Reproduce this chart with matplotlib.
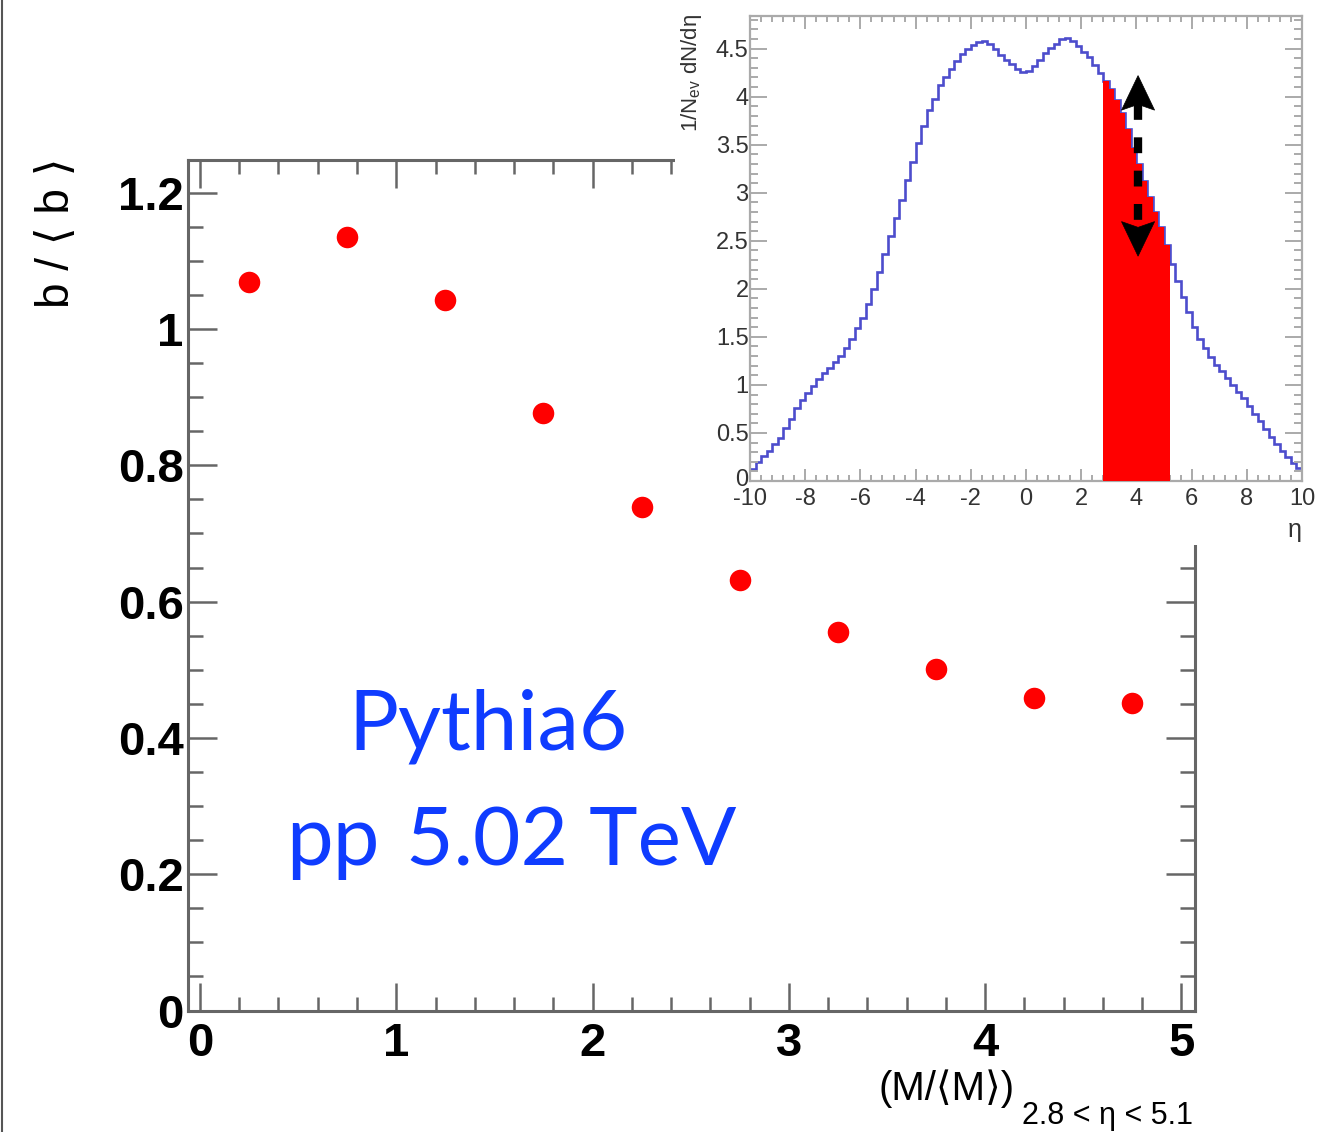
import numpy as np
import matplotlib
matplotlib.use("Agg")
import matplotlib.pyplot as plt
import matplotlib.transforms as mtransforms
from matplotlib.ticker import MultipleLocator, FormatStrFormatter
from matplotlib.patches import Rectangle, Polygon
from matplotlib.lines import Line2D

# ---------------- data ----------------
# b/<b> versus multiplicity bin (M/<M>) in 2.8 < eta < 5.1
mult_bin_centers = [0.25, 0.75, 1.25, 1.75, 2.25, 2.75, 3.25, 3.75, 4.25, 4.75]
b_ratio = [1.069, 1.135, 1.043, 0.877, 0.739, 0.632, 0.555, 0.501, 0.459, 0.451]

# pseudorapidity density histogram, 100 bins on [-10, 10]
eta_lo, eta_hi, eta_nbins = -10.0, 10.0, 100
dndeta = [
    0.13, 0.20, 0.26, 0.31, 0.38, 0.45, 0.55, 0.65, 0.76, 0.84,
    0.92, 0.99, 1.06, 1.12, 1.18, 1.24, 1.30, 1.38, 1.48, 1.59,
    1.70, 1.84, 2.00, 2.18, 2.36, 2.55, 2.74, 2.93, 3.13, 3.32,
    3.52, 3.70, 3.86, 3.98, 4.12, 4.20, 4.29, 4.37, 4.44, 4.50,
    4.54, 4.57, 4.58, 4.55, 4.50, 4.43, 4.38, 4.34, 4.29, 4.26,
    4.27, 4.32, 4.38, 4.45, 4.51, 4.55, 4.60, 4.61, 4.58, 4.53,
    4.47, 4.41, 4.33, 4.25, 4.16, 4.08, 3.97, 3.83, 3.66, 3.47,
    3.30, 3.12, 2.96, 2.80, 2.64, 2.46, 2.26, 2.08, 1.92, 1.76,
    1.60, 1.48, 1.38, 1.29, 1.21, 1.14, 1.07, 1.00, 0.93, 0.86,
    0.78, 0.70, 0.62, 0.54, 0.46, 0.38, 0.31, 0.25, 0.19, 0.14,
]
# forward window used for the multiplicity estimator
window_lo, window_hi = 2.8, 5.2
# double arrow marking the fluctuation of the forward yield
arrow_eta = 4.06
arrow_top, arrow_bottom = 4.22, 2.34

W, H = 1317, 1132
fig = plt.figure(figsize=(W / 100, H / 100), dpi=100)
fig.patch.set_facecolor("white")
plt.rcParams["mathtext.fontset"] = "custom"
plt.rcParams["mathtext.rm"] = "Liberation Sans"


def fx(px):
    return px / W


def fy(py):
    return 1 - py / H


FRAME = "#666666"
REG = ["Liberation Sans", "DejaVu Sans"]

# ---------------- main panel ----------------
ax = fig.add_axes([fx(188), fy(1010.5), fx(1195) - fx(188), fy(160) - fy(1010.5)])
ax.set_xlim(-0.061, 5.069)
ax.set_ylim(0.0, 1.248)
ax.plot(mult_bin_centers, b_ratio, "o", color="#ff0000", ms=15.5, mec="none", zorder=3)

for s in ax.spines.values():
    s.set_color(FRAME)
    s.set_linewidth(2.2)
ax.xaxis.set_major_locator(MultipleLocator(1))
ax.xaxis.set_minor_locator(MultipleLocator(0.2))
ax.yaxis.set_major_locator(MultipleLocator(0.2))
ax.yaxis.set_minor_locator(MultipleLocator(0.05))
ax.yaxis.set_major_formatter(FormatStrFormatter("%g"))
ax.xaxis.set_major_formatter(FormatStrFormatter("%g"))
ax.tick_params(which="both", direction="in", top=True, right=True, color=FRAME, width=1.8)
ax.tick_params(axis="x", which="major", length=20, pad=8)
ax.tick_params(axis="x", which="minor", length=10)
ax.tick_params(axis="y", which="major", length=21, pad=3)
ax.tick_params(axis="y", which="minor", length=10.5)
for lab in ax.get_xticklabels() + ax.get_yticklabels():
    lab.set_fontfamily(REG)
    lab.set_fontweight("bold")
    lab.set_fontsize(34)

# axis titles
fig.text(fx(57), fy(158), "b / ⟨ b ⟩", rotation=90, ha="center", va="top",
         fontsize=33, family=REG)
fig.text(fx(1015), fy(1100), "(M/⟨M⟩)", ha="right", va="baseline",
         fontsize=29, family=REG)
fig.text(fx(1193), fy(1124), "2.8 < η < 5.1", ha="right", va="baseline",
         fontsize=22, family=REG)

# generator / system label
BLUE = "#0f3cff"
LABEL_FONT = ["Lato", "DejaVu Sans"]
fig.text(fx(348), fy(750), "Pythia6", ha="left", va="baseline",
         fontsize=60, color=BLUE, family=LABEL_FONT)
fig.text(fx(286), fy(865), "pp", ha="left", va="baseline",
         fontsize=60, color=BLUE, family=LABEL_FONT)
fig.text(fx(406), fy(865), "5.02 TeV", ha="left", va="baseline",
         fontsize=59, color=BLUE, family=LABEL_FONT)

# white pad behind the inset
fig.patches.append(Rectangle((fx(675), fy(545)), 1 - fx(675), fy(0) - fy(545),
                             transform=fig.transFigure, facecolor="white",
                             edgecolor="none", zorder=1))

# ---------------- inset ----------------
ins = fig.add_axes([fx(750), fy(481), fx(1302) - fx(750), fy(16) - fy(481)], zorder=2)
ins.set_xlim(eta_lo, eta_hi)
ins.set_ylim(0, 4.84)
edges = np.linspace(eta_lo, eta_hi, eta_nbins + 1)
vals = np.asarray(dndeta)
ins.stairs(vals, edges, color="#4d4dcc", lw=1.9, baseline=None)
sel = (edges[:-1] >= window_lo - 1e-9) & (edges[1:] <= window_hi + 1e-9)
i0 = np.argmax(sel)
i1 = i0 + sel.sum()
ins.stairs(vals[i0:i1], edges[i0:i1 + 1], fill=True, color="#ff0000", zorder=3)

# dashed double arrow
hw, hl, notch = 0.60, 0.36, 0.30
ins.plot([arrow_eta, arrow_eta], [arrow_top - notch, arrow_bottom + notch], color="black",
         lw=6, dashes=(1.9, 2.1), solid_capstyle="butt", dash_capstyle="butt", zorder=5)
for tip, sgn in ((arrow_top, -1), (arrow_bottom, 1)):
    ins.add_patch(Polygon([(arrow_eta, tip),
                           (arrow_eta - hw, tip + sgn * hl),
                           (arrow_eta, tip + sgn * notch),
                           (arrow_eta + hw, tip + sgn * hl)],
                          closed=True, facecolor="black", edgecolor="black", lw=0.5, zorder=6))

ICOL = "#aaaaaa"
for s in ins.spines.values():
    s.set_color(ICOL)
    s.set_linewidth(1.6)
ins.xaxis.set_major_locator(MultipleLocator(2))
ins.xaxis.set_minor_locator(MultipleLocator(0.4))
ins.yaxis.set_major_locator(MultipleLocator(0.5))
ins.yaxis.set_minor_locator(MultipleLocator(0.1))
ins.xaxis.set_major_formatter(FormatStrFormatter("%g"))
ins.yaxis.set_major_formatter(FormatStrFormatter("%g"))
ins.tick_params(which="both", direction="in", top=True, right=True, color=ICOL, width=1.4,
                labelsize=17, labelcolor="#333333")
ins.tick_params(axis="x", which="major", length=9, pad=5)
ins.tick_params(axis="x", which="minor", length=4.5)
ins.tick_params(axis="y", which="major", length=12, pad=1)
ins.tick_params(axis="y", which="minor", length=6)
for lab in ins.get_xticklabels() + ins.get_yticklabels():
    lab.set_fontfamily(REG)

# lift the y "0" label a little so it sits above the "-10" label
fig.canvas.draw()
for tick in ins.yaxis.get_major_ticks():
    if abs(tick.get_loc()) < 1e-9:
        lab = tick.label1
        lab.set_transform(lab.get_transform() +
                          mtransforms.ScaledTranslation(0, 4 / 100, fig.dpi_scale_trans))

fig.text(fx(692), fy(14), r"1/N$_{\mathrm{ev}}$ dN/dη", rotation=90, ha="center", va="top",
         fontsize=16, family=REG, color="#333333")
fig.text(fx(1302), fy(537), "η", ha="right", va="baseline", fontsize=18,
         family=REG, color="#333333")

# slide edge line on the left
fig.lines.append(Line2D([fx(1.5), fx(1.5)], [0, 1], transform=fig.transFigure,
                        color="#555555", lw=1.5))

fig.savefig("out.png", dpi=100)
